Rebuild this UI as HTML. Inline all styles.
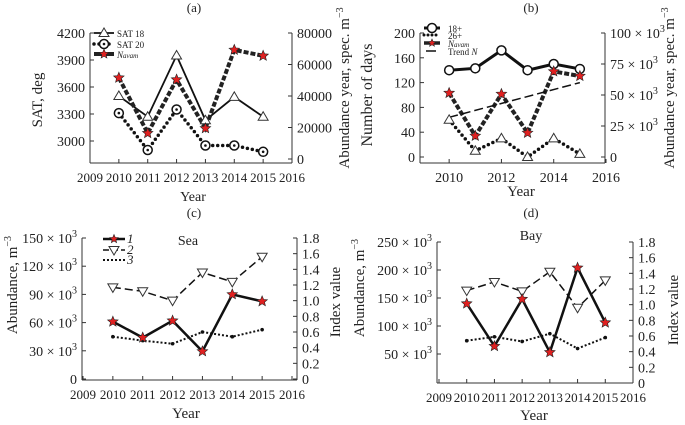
<!DOCTYPE html>
<html><head><meta charset="utf-8">
<style>
html,body{margin:0;padding:0;background:#fff;}
svg{display:block;font-family:"Liberation Serif",serif;}
</style></head>
<body>
<svg id="c" width="685" height="425" viewBox="0 0 685 425" xmlns="http://www.w3.org/2000/svg"></svg>
<script>
// ---- data ----
const yearsA = [2010,2011,2012,2013,2014,2015];
const sat18 = [3500,3270,3950,3230,3490,3270];
const sat20 = [3310,2900,3350,2950,2950,2880];
const nA = [51600,16400,50400,19500,69300,65500];
const ticksAX = [2009,2010,2011,2012,2013,2014,2015,2016];
const ticksAL = [3000,3300,3600,3900,4200];
const ticksAR = [0,20000,40000,60000,80000];

const days18 = [140,143,172,140,150,142];
const days26 = [60,10,30,0,30,5];
const nB = [51.6,17,50.8,19.4,69,65.3];
const trendB = [32,60];
const ticksBX = [2010,2012,2014,2016];
const ticksBL = [0,40,80,120,160,200];
const ticksBR = [0,25,50,75,100];

const sea1 = [61,44,62,29.4,90,82.6];
const sea2 = [1.17,1.12,1.00,1.36,1.24,1.56];
const sea3 = [0.54,0.49,0.45,0.60,0.54,0.63];
const ticksCL = [0,30,60,90,120,150];
const ticksIdx = [0,0.2,0.4,0.6,0.8,1.0,1.2,1.4,1.6,1.8];

const bay1 = [140,64,148,53,204,106];
const bay2 = [1.18,1.29,1.17,1.42,0.96,1.31];
const bay3 = [0.54,0.59,0.53,0.63,0.44,0.58];
const ticksDL = [50,100,150,200,250];

const NS="http://www.w3.org/2000/svg";
const svg=document.getElementById('c');
function el(tag,attrs,parent){const e=document.createElementNS(NS,tag);for(const k in attrs)e.setAttribute(k,attrs[k]);(parent||svg).appendChild(e);return e;}
function txt(s,x,y,attrs,parent){const t=el('text',Object.assign({x:x,y:y,'font-size':13,'text-anchor':'middle',fill:'#222'},attrs||{}),parent);t.innerHTML=s;return t;}
function lin(x0,x1,d0,d1){return v=>x0+(v-d0)/(d1-d0)*(x1-x0);}

function axes(g,p){
  el('line',{x1:p.xl,x2:p.xr,y1:p.yb,y2:p.yb,stroke:'#333','stroke-width':1},g);
  p.xt.forEach(t=>{const x=p.sx(t);el('line',{x1:x,x2:x,y1:p.yb,y2:p.yb-4,stroke:'#333'},g);
    const lab=txt(String(t),x,p.yb+19,{'font-size':p.xfs||14},g);
    
    });
  el('line',{x1:p.xl,x2:p.xl,y1:p.yt,y2:p.yb,stroke:'#333'},g);
  p.lt.forEach(t=>{const y=p.sl(t);el('line',{x1:p.xl,x2:p.xl+4,y1:y,y2:y,stroke:'#333'},g);
    const lab=txt(p.lf(t),p.xl-5,y+5,{'text-anchor':'end','font-size':14},g);
    
    });
  el('line',{x1:p.xr,x2:p.xr,y1:p.yt,y2:p.yb,stroke:'#333'},g);
  p.rt.forEach(t=>{const y=p.sr(t);el('line',{x1:p.xr,x2:p.xr-4,y1:y,y2:y,stroke:'#333'},g);
    const lab=txt(p.rf(t),p.xr+5,y+5,{'text-anchor':'start','font-size':14},g);
    
    });
}
function line(g,xs,ys,st,name){
  const pts=xs.map((x,i)=>x+','+ys[i]).join(' ');
  const l=el('polyline',Object.assign({points:pts,fill:'none',stroke:'#111'},st),g);
  
  
  return l;
}
function star(g,x,y,r){
  const pts=[];for(let i=0;i<10;i++){const a=-Math.PI/2+i*Math.PI/5;const rr=i%2?r*0.45:r;pts.push((x+rr*Math.cos(a)).toFixed(1)+','+(y+rr*Math.sin(a)).toFixed(1));}
  const s=el('polygon',{points:pts.join(' '),fill:'#e02020',stroke:'#222','stroke-width':0.6},g);
  
  
}
function tri(g,x,y,down){
  const r=5;const p=down?`${x-r},${y-r*0.7} ${x+r},${y-r*0.7} ${x},${y+r}`:`${x-r},${y+r*0.7} ${x+r},${y+r*0.7} ${x},${y-r}`;
  const s=el('polygon',{points:p,fill:'#fff',stroke:'#333','stroke-width':1},g);
  
  
}
function circ(g,x,y,dot){
  const s=el('circle',{cx:x,cy:y,r:4.5,fill:'#fff',stroke:'#111','stroke-width':1.5},g);
  
  
  if(dot)el('circle',{cx:x,cy:y,r:1.3,fill:'#111'},g);
}
function vlabel(s,x,y,g,fs){const t=txt(s,x,y,{transform:`rotate(-90 ${x} ${y})`,'font-size':fs||15},g);return t;}

const thickDash={'stroke-width':4,'stroke-dasharray':'5,2',stroke:'#222'};
const roundDot={'stroke-width':3.5,'stroke-dasharray':'0,5','stroke-linecap':'round'};

// ---------- Panel A ----------
(function(){
  const g=el('g',{});
  const sx=lin(90,292,2009,2016), sl=lin(141,33,3000,4200), sr=lin(159,33,0,80000);
  axes(g,{xl:90,xr:292,yt:33,yb:163,sx,sl,sr,xt:ticksAX,lt:ticksAL,rt:ticksAR,lf:t=>t,rf:t=>t,xfs:13});
  const xs=yearsA.map(sx);
  line(g,xs,sat18.map(sl),{'stroke-width':1.8},'sat18-line');
  line(g,xs,sat20.map(sl),roundDot,'sat20-line');
  line(g,xs,nA.map(sr),thickDash,'n-abundance-line');
  xs.forEach((x,i)=>{tri(g,x,sl(sat18[i]));circ(g,x,sl(sat20[i]),true);star(g,x,sr(nA[i]),5.5);});
  txt('(a)',194,12,{'font-size':13},g);
  txt('Year',193,201,{'font-size':14},g);
  vlabel('SAT, deg',42,100,g);
  const lg=el('g',{},g);
  el('line',{x1:94,x2:114,y1:33,y2:33,stroke:'#111','stroke-width':1.8},lg);tri(lg,104,33);
  el('line',{x1:94,x2:114,y1:44,y2:44,stroke:'#111','stroke-width':3.5,'stroke-dasharray':'0,5','stroke-linecap':'round'},lg);circ(lg,104,44,true);
  el('line',{x1:94,x2:114,y1:54,y2:54,stroke:'#222','stroke-width':4},lg);star(lg,104,54,5);
  txt('SAT 18',117,37,{'text-anchor':'start','font-size':9},lg);
  txt('SAT 20',117,48,{'text-anchor':'start','font-size':9},lg);
  txt('<tspan font-style="italic">N<tspan font-size="7">avam</tspan></tspan>',117,58,{'text-anchor':'start','font-size':9},lg);
})();

// ---------- Panel B ----------
(function(){
  const g=el('g',{});
  const sx=lin(423,606,2009,2016), sl=lin(157,33,0,200), sr=lin(157,33,0,100);
  axes(g,{xl:420,xr:605,yt:33,yb:163,sx,sl,sr,xt:ticksBX,lt:ticksBL,rt:ticksBR,lf:t=>t,rf:t=>t===0?'0':t+' × 10<tspan dy="-6" font-size="10">3</tspan>'});
  const xs=yearsA.map(sx);
  line(g,xs,days18.map(sl),{'stroke-width':3},'days-18-line');
  line(g,xs,days26.map(sl),roundDot,'days-26-line');
  line(g,xs,nB.map(sr),thickDash,'n-abundance-line');
  line(g,[sx(2010),sx(2015)],trendB.map(sr),{'stroke-width':1.5,'stroke-dasharray':'9,4'},'trend-line');
  xs.forEach((x,i)=>{circ(g,x,sl(days18[i]),false);tri(g,x,sl(days26[i]));star(g,x,sr(nB[i]),5.5);});
  txt('(b)',531,12,{'font-size':13},g);
  txt('Year',521,196,{'font-size':15},g);
  vlabel('Number of days',372,95,g,16);
  vlabel('Abundance year, spec. m<tspan dy="-6" font-size="10">−3</tspan>',349,88,g,15);
  vlabel('Abundance year, spec. m<tspan dy="-6" font-size="10">−3</tspan>',674,88,g,15);
  const lg=el('g',{},g);
  el('line',{x1:424,x2:440,y1:28,y2:28,stroke:'#111','stroke-width':3},lg);circ(lg,432,28,false);
  el('line',{x1:424,x2:440,y1:35,y2:35,stroke:'#111','stroke-width':3,'stroke-dasharray':'0,4','stroke-linecap':'round'},lg);
  el('line',{x1:424,x2:440,y1:43,y2:43,stroke:'#222','stroke-width':3.5},lg);star(lg,432,43,4);
  el('line',{x1:426,x2:436,y1:51,y2:51,stroke:'#111','stroke-width':1.5},lg);
  txt('18+',448,32,{'text-anchor':'start','font-size':9},lg);
  txt('26+',448,39,{'text-anchor':'start','font-size':9},lg);
  txt('<tspan font-style="italic">N<tspan font-size="7">avam</tspan></tspan>',448,47,{'text-anchor':'start','font-size':9},lg);
  txt('Trend <tspan font-style="italic">N</tspan>',448,55,{'text-anchor':'start','font-size':9},lg);
})();

// ---------- Panel C ----------
(function(){
  const g=el('g',{});
  const sx=lin(83,292,2009,2016), sl=lin(379,238,0,150), sr=lin(379,238,0,1.8);
  axes(g,{xl:82,xr:297,yt:238,yb:380,sx,sl,sr,xt:ticksAX,lt:ticksCL,rt:ticksIdx,lf:t=>t===0?'0':t+' × 10<tspan dy="-6" font-size="10">3</tspan>',rf:t=>t===0?'0':t.toFixed(1),xfs:13});
  const xs=yearsA.map(sx);
  line(g,xs,sea2.map(sr),{'stroke-width':1.5,'stroke-dasharray':'8,4'},'sea-series-2-line');
  line(g,xs,sea3.map(sr),{'stroke-width':2,'stroke-dasharray':'2,2'},'sea-series-3-line');
  line(g,xs,sea1.map(sl),{'stroke-width':2.5},'sea-series-1-line');
  xs.forEach((x,i)=>{tri(g,x,sr(sea2[i]),true);el('circle',{cx:x,cy:sr(sea3[i]),r:1.8,fill:'#111'},g);star(g,x,sl(sea1[i]),5.5);});
  txt('(c)',194,217,{'font-size':13},g);
  txt('Sea',188,245,{'font-size':14},g);
  txt('Year',186,418,{'font-size':15},g);
  vlabel('Abundance,  m<tspan dy="-6" font-size="10">−3</tspan>',17,285,g,15);
  vlabel('Index value',340,302,g,15);
  const lg=el('g',{},g);
  el('line',{x1:103,x2:125,y1:239,y2:239,stroke:'#111','stroke-width':2.5},lg);star(lg,114,239,4.5);
  el('line',{x1:103,x2:125,y1:250,y2:250,stroke:'#111','stroke-width':1.5,'stroke-dasharray':'6,3'},lg);tri(lg,114,250,true);
  el('line',{x1:103,x2:125,y1:260,y2:260,stroke:'#111','stroke-width':2,'stroke-dasharray':'2,2'},lg);
  txt('1',127,243,{'text-anchor':'start','font-size':13,'font-style':'italic'},lg);
  txt('2',127,254,{'text-anchor':'start','font-size':13,'font-style':'italic'},lg);
  txt('3',127,264,{'text-anchor':'start','font-size':13,'font-style':'italic'},lg);
})();

// ---------- Panel D ----------
(function(){
  const g=el('g',{});
  const sx=lin(439,633,2009,2016), sl=lin(382,242,0,250), sr=lin(383,242,0,1.8);
  axes(g,{xl:437,xr:633,yt:242,yb:383,sx,sl,sr,xt:ticksAX,lt:ticksDL,rt:ticksIdx,lf:t=>t+' × 10<tspan dy="-6" font-size="10">3</tspan>',rf:t=>t===0?'0':t.toFixed(1),xfs:13});
  const xs=yearsA.map(sx);
  line(g,xs,bay2.map(sr),{'stroke-width':1.5,'stroke-dasharray':'8,4'},'bay-series-2-line');
  line(g,xs,bay3.map(sr),{'stroke-width':2,'stroke-dasharray':'2,2'},'bay-series-3-line');
  line(g,xs,bay1.map(sl),{'stroke-width':2.5},'bay-series-1-line');
  xs.forEach((x,i)=>{tri(g,x,sr(bay2[i]),true);el('circle',{cx:x,cy:sr(bay3[i]),r:1.8,fill:'#111'},g);star(g,x,sl(bay1[i]),5.5);});
  txt('(d)',531,217,{'font-size':13},g);
  txt('Bay',531,240,{'font-size':14},g);
  txt('Year',534,420,{'font-size':15},g);
  vlabel('Abundance,  m<tspan dy="-6" font-size="10">−3</tspan>',364,288,g,15);
  vlabel('Index value',678,310,g,15);
})();
</script>
</body></html>
